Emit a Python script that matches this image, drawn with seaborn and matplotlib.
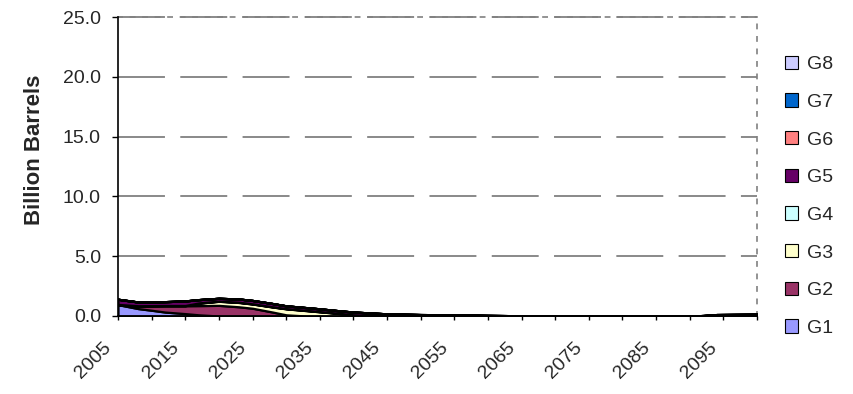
import matplotlib
matplotlib.use("Agg")
import matplotlib.pyplot as plt
from matplotlib.patches import Patch
from matplotlib.transforms import ScaledTranslation
import seaborn as sns
import numpy as np

years = [2005, 2008, 2010, 2012, 2015, 2017, 2020, 2023, 2025, 2028, 2030, 2033,
         2035, 2038, 2040, 2045, 2050, 2055, 2060, 2065, 2090, 2092, 2094, 2100]
G1 = [0.95, 0.62, 0.48, 0.33, 0.20, 0.10, 0.0, 0.0, 0.0, 0.0, 0.0, 0.0,
      0.0, 0.0, 0.0, 0.0, 0.0, 0.0, 0.0, 0.0, 0.0, 0.0, 0.0, 0.0]
G2 = [0.0, 0.22, 0.37, 0.53, 0.66, 0.77, 0.89, 0.77, 0.65, 0.33, 0.10, 0.0,
      0.0, 0.0, 0.0, 0.0, 0.0, 0.0, 0.0, 0.0, 0.0, 0.0, 0.0, 0.0]
G3 = [0.0, 0.0, 0.0, 0.0, 0.0, 0.20, 0.34, 0.36, 0.35, 0.42, 0.50, 0.45,
      0.35, 0.20, 0.08, 0.0, 0.0, 0.0, 0.0, 0.0, 0.0, 0.0, 0.0, 0.0]
G4 = [0.02, 0.02, 0.02, 0.02, 0.02, 0.02, 0.02, 0.02, 0.02, 0.02, 0.02, 0.02,
      0.02, 0.02, 0.02, 0.01, 0.01, 0.0, 0.0, 0.0, 0.0, 0.0, 0.0, 0.0]
G5 = [0.43, 0.31, 0.28, 0.32, 0.38, 0.28, 0.23, 0.27, 0.28, 0.27, 0.23, 0.23,
      0.23, 0.21, 0.23, 0.17, 0.11, 0.10, 0.05, 0.02, 0.0, 0.04, 0.12, 0.15]
G6 = [0.0] * 24
G7 = [0.0] * 24
G8 = [0.0] * 24

labels = ["G1", "G2", "G3", "G4", "G5", "G6", "G7", "G8"]
colors = ["#9999FF", "#993366", "#FFFFCC", "#CCFFFF", "#660066", "#FF8080", "#0066CC", "#CCCCFF"]
xtick_labels = [str(y) for y in range(2005, 2100, 10)]
yticks = [0, 5, 10, 15, 20, 25]

sns.set_style("white")
plt.rcParams["font.family"] = ["Liberation Sans", "DejaVu Sans"]
FS = 14

fig = plt.figure(figsize=(8.54, 3.94), dpi=100)
ax = fig.add_axes([118 / 854, 1 - 316 / 394, (757 - 118) / 854, (316 - 17) / 394])

series = [G1, G2, G3, G4, G5, G6, G7, G8]
ax.stackplot(years, *series, colors=colors, edgecolor="black", linewidth=1.6, zorder=3)

ax.set_xlim(2005, 2100)
ax.set_ylim(0, 25)

for yv in yticks[1:]:
    ax.axhline(yv, color="#808080", lw=1.3, dashes=(26, 8.5), zorder=2, clip_on=False)

ax.set_yticks(yticks)
ax.set_yticklabels([f"{v:.1f}" for v in yticks], fontsize=FS)
ax.set_xticks(list(range(2005, 2100, 10)))
ax.set_xticklabels(xtick_labels, fontsize=FS, rotation=45, ha="right", va="center",
                   rotation_mode="anchor")
ax.set_xticks(list(range(2010, 2101, 10)), minor=True)
ax.tick_params(axis="x", which="both", direction="out", length=3, width=1, color="black",
               bottom=True, pad=18)
ax.tick_params(axis="y", direction="out", length=4.3, width=1, color="black", left=True, pad=8)
shift = ScaledTranslation(-0.09, 0, fig.dpi_scale_trans)
for lbl in ax.get_xticklabels():
    lbl.set_transform(lbl.get_transform() + shift)

for s in ["top", "right"]:
    ax.spines[s].set_color("#808080")
    ax.spines[s].set_linestyle((0, (2.5, 5)))
    ax.spines[s].set_linewidth(1.2)
for s in ["left", "bottom"]:
    ax.spines[s].set_color("black")
    ax.spines[s].set_linewidth(1.2)
    ax.spines[s].set_zorder(5)

ax.set_ylabel("Billion Barrels", fontsize=16, fontweight="bold")
ax.yaxis.set_label_coords(35 / 854, 0.5 - 0.5 * 0 , transform=fig.transFigure)
ax.yaxis.label.set_verticalalignment("center")
ax.yaxis.label.set_y((394 - 150) / 394)

handles = [Patch(facecolor=c, edgecolor="black", linewidth=0.8) for c in colors]
leg = fig.legend(handles[::-1], labels[::-1], loc="upper left",
                 bbox_to_anchor=(777 / 854, 1 - 48 / 394),
                 frameon=False, fontsize=FS, handlelength=0.67, handleheight=0.67,
                 handletextpad=0.45, labelspacing=1.04, borderaxespad=0)

fig.savefig("out.png", dpi=100)
